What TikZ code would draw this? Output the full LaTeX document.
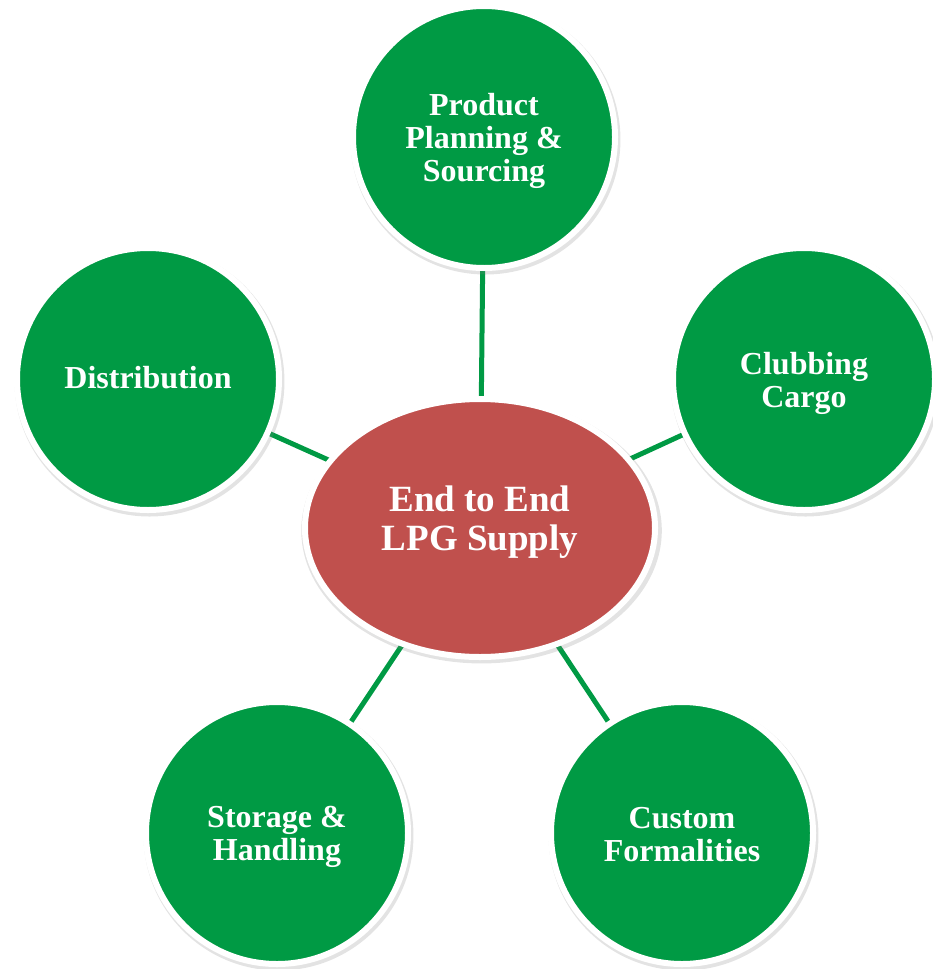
\documentclass[tikz,border=0pt]{standalone}
\usepackage{fontspec}
\setmainfont{Liberation Serif}
\usetikzlibrary{shapes.geometric,shadows,backgrounds}
\definecolor{leafgreen}{HTML}{009A44}
\definecolor{brickred}{HTML}{C0504D}
\tikzset{
  rimshadow/.style={drop shadow={opacity=0.22, shadow xshift=1.5pt, shadow yshift=-2.5pt, shadow scale=1.03}},
  topic/.style={circle, fill=leafgreen, draw=white, line width=6pt,
    minimum size=262pt, inner sep=0pt, rimshadow},
  topictext/.style={text=white, align=center, inner sep=0pt,
    font=\fontsize{32}{33}\selectfont\bfseries},
  hub/.style={ellipse, fill=brickred, draw=white, line width=6pt,
    minimum width=350pt, minimum height=258pt, inner sep=0pt, rimshadow},
  hubtext/.style={text=white, align=center, inner sep=0pt,
    font=\fontsize{37}{39}\selectfont\bfseries},
  spoke/.style={draw=leafgreen, line width=5pt}
}
\begin{document}
\begin{tikzpicture}[x=1pt,y=-1pt]
\useasboundingbox (0,0) rectangle (932,969);
\node[hub] (hub) at (480,528) {};
\node[hubtext] (hubt) at ([yshift=6pt]hub.center) {End to End\\LPG Supply};
\node[topic] (plan) at (484,137) {};
\node[topictext] (plant) at ([yshift=-4pt]plan.center) {Product\\Planning \&\\Sourcing};
\node[topic] (dist) at (148,379) {};
\node[topictext] (distt) at ([yshift=1pt]dist.center) {Distribution};
\node[topic] (club) at (804,379) {};
\node[topictext] (clubt) at ([yshift=-4pt]club.center) {Clubbing\\Cargo};
\node[topic] (store) at (277,833) {};
\node[topictext] (storet) at ([yshift=-4pt]store.center) {Storage \&\\Handling};
\node[topic] (cust) at (682,833) {};
\node[topictext] (custt) at ([yshift=-2pt]cust.center) {Custom\\Formalities};
\begin{pgfonlayer}{background}
\draw[spoke] (hub.center) -- (plan.center);
\draw[spoke] (hub.center) -- (dist.center);
\draw[spoke] (hub.center) -- (club.center);
\draw[spoke] (hub.center) -- (store.center);
\draw[spoke] (hub.center) -- (cust.center);
\end{pgfonlayer}
\end{tikzpicture}
\end{document}
